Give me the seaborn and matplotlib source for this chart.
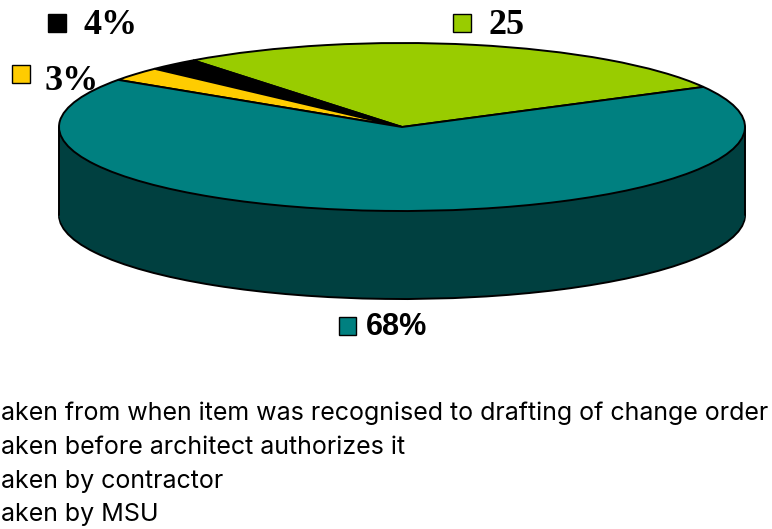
import matplotlib
matplotlib.use("Agg")
import matplotlib.pyplot as plt
from matplotlib.patches import Rectangle
import seaborn as sns

# Slice shares as drawn in the picture, and the labels printed beside them
slice_shares = [27.5, 2.4, 2.7, 67.4]
slice_labels = ["25", "4%", "3%", "68%"]
top_colors = ["#99CC00", "#000000", "#FFCC00", "#008080"]
side_colors = ["#4D6600", "#000000", "#806600", "#004040"]
legend_rows = [
    "aken from when item was recognised to drafting of change order",
    "aken before architect authorizes it",
    "aken by contractor",
    "aken by MSU",
]

sns.set_theme(style="white")
W, H = 772, 529
fig = plt.figure(figsize=(W / 100, H / 100), dpi=100, facecolor="white")


def fx(x):
    return x / W


def fy(y):
    return 1 - y / H


# Axes spans the top ellipse: x +-1 is 343 px, y +-1 is 84 px
cx, cy, a, b = 402, 127, 343, 84
ax = fig.add_axes([fx(cx - a), fy(cy + b), 2 * a / W, 2 * b / H])
depth = 88 / b
layers = 44
start = 28.5
for i in range(layers, 0, -1):
    off = -depth * i / layers
    ax.pie(slice_shares, colors=side_colors, startangle=start, center=(0, off),
           counterclock=True, frame=False,
           wedgeprops=dict(linewidth=1.4 if i == layers else 0,
                           edgecolor="black" if i == layers else "none",
                           clip_on=False))
ax.pie(slice_shares, colors=top_colors, startangle=start, center=(0, 0),
       counterclock=True, frame=False,
       wedgeprops=dict(linewidth=1.4, edgecolor="black", clip_on=False))
ax.plot([-1, -1], [0, -depth], color="black", lw=1.4, clip_on=False, zorder=5)
ax.plot([1, 1], [0, -depth], color="black", lw=1.4, clip_on=False, zorder=5)
ax.set_aspect("auto")
ax.set_xlim(-1, 1)
ax.set_ylim(-1, 1)
ax.axis("off")

# Data labels with their keys
serif = "Liberation Serif"
sans = "Liberation Sans"
keys = [(453, 14, 18, 18), (48, 14, 18, 18), (12, 65, 18, 18), (339, 317, 17, 18)]
for (kx, ky, kw, kh), col in zip(keys, top_colors):
    fig.add_artist(Rectangle((fx(kx), fy(ky + kh)), kw / W, kh / H,
                             transform=fig.transFigure, facecolor=col,
                             edgecolor="black", linewidth=1.0))
label_pos = [(489, 34, serif, 26), (83, 34, serif, 26), (45, 90, serif, 26), (366, 335, sans, 22)]
for txt, (lx, ly, fam, fs) in zip(slice_labels, label_pos):
    fig.text(fx(lx), fy(ly), txt, family=fam, fontsize=fs, fontweight="bold",
             color="black", ha="left", va="baseline")

# Legend rows, which start at the left edge of the canvas
row_y = [420, 454, 488, 521]
for row, y in zip(legend_rows, row_y):
    fig.text(fx(1), fy(y), row, family="Inter", fontsize=18, color="black",
             ha="left", va="baseline", fontweight="normal")

fig.savefig("out.png", dpi=100, facecolor="white")
